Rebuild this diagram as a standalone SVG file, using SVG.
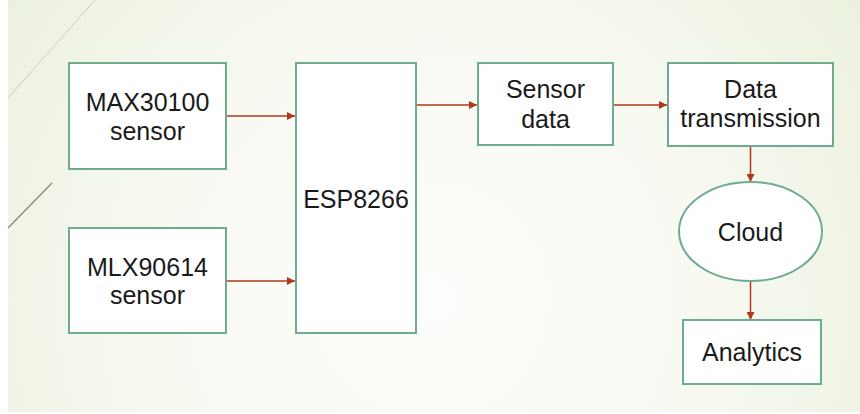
<svg xmlns="http://www.w3.org/2000/svg" width="860" height="414" viewBox="0 0 860 414">
<defs>
<radialGradient id="bg" cx="430" cy="300" r="520" gradientUnits="userSpaceOnUse">
<stop offset="0" stop-color="#fdfdfb"/>
<stop offset="0.55" stop-color="#f7f9f1"/>
<stop offset="1" stop-color="#ebf1df"/>
</radialGradient>
<marker id="ah" markerWidth="8" markerHeight="8" refX="8" refY="4" orient="auto" markerUnits="userSpaceOnUse">
<path d="M0,0 L8,4 L0,8 Z" fill="#b0381c"/>
</marker>
<style>
.box{fill:#ffffff;stroke:#6eab90;stroke-width:2}
.t{font-family:"Liberation Sans",Arial,sans-serif;font-size:25px;fill:#1a1a1a;text-anchor:middle}
.c{stroke:#b0381c;stroke-width:1.5;fill:none;marker-end:url(#ah)}
</style>
</defs>
<rect x="0" y="0" width="860" height="414" fill="#ffffff"/>
<rect x="8" y="0" width="852" height="412" fill="url(#bg)"/>
<line x1="95" y1="0" x2="8" y2="98" stroke="#c9ccbe" stroke-width="1"/>
<line x1="52" y1="183" x2="8" y2="228" stroke="#8a8478" stroke-width="1.2"/>

<g id="connectors">
<line class="c" x1="226" y1="116" x2="295" y2="116"/>
<line class="c" x1="226" y1="281" x2="295" y2="281"/>
<line class="c" x1="416" y1="105" x2="477" y2="105"/>
<line class="c" x1="613" y1="105" x2="667" y2="105"/>
<line class="c" x1="750.5" y1="146" x2="750.5" y2="182"/>
<line class="c" x1="750.5" y1="281" x2="750.5" y2="320"/>
</g>

<g id="max30100">
<rect class="box" x="69" y="63" width="157" height="106"/>
<text class="t" x="147.5" y="111">MAX30100</text>
<text class="t" x="147.5" y="140">sensor</text>
</g>
<g id="mlx90614">
<rect class="box" x="69" y="228" width="157" height="105"/>
<text class="t" x="147.5" y="276">MLX90614</text>
<text class="t" x="147.5" y="304">sensor</text>
</g>
<g id="esp8266">
<rect class="box" x="296" y="63" width="120" height="270"/>
<text class="t" x="356" y="208">ESP8266</text>
</g>
<g id="sensordata">
<rect class="box" x="478" y="63" width="135" height="82"/>
<text class="t" x="545.5" y="98">Sensor</text>
<text class="t" x="545.5" y="128">data</text>
</g>
<g id="datatransmission">
<rect class="box" x="668" y="63" width="165" height="83"/>
<text class="t" x="750.5" y="98">Data</text>
<text class="t" x="750.5" y="127">transmission</text>
</g>
<g id="cloud">
<ellipse class="box" cx="750.5" cy="231.5" rx="71.5" ry="49.5"/>
<text class="t" x="750.5" y="241">Cloud</text>
</g>
<g id="analytics">
<rect class="box" x="683" y="320" width="138" height="64"/>
<text class="t" x="752" y="361">Analytics</text>
</g>
</svg>
